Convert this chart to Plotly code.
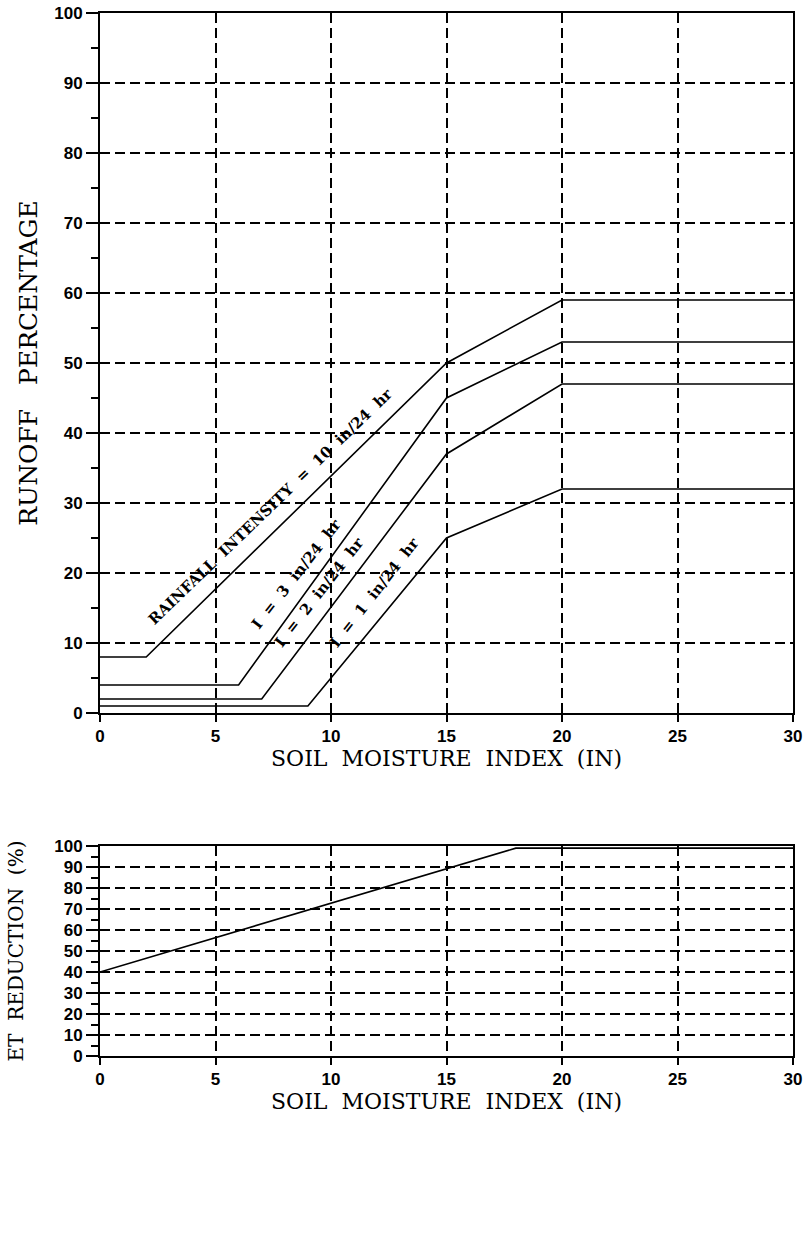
import plotly.graph_objects as go
from plotly.subplots import make_subplots

# Top chart data: soil moisture index vs runoff percentage
smi_10 = [0, 2, 15, 20, 30]
runoff_10 = [8, 8, 50, 59, 59]
smi_3 = [0, 6, 15, 20, 30]
runoff_3 = [4, 4, 45, 53, 53]
smi_2 = [0, 7, 15, 20, 30]
runoff_2 = [2, 2, 37, 47, 47]
smi_1 = [0, 9, 15, 20, 30]
runoff_1 = [1, 1, 25, 32, 32]

# Bottom chart data: ET reduction
smi_et = [0, 18, 30]
et_reduction = [40, 99, 99]

labels = ["RAINFALL  INTENSITY  =  10  in/24  hr", "I  =  3  in/24  hr",
          "I  =  2  in/24  hr", "I  =  1  in/24  hr"]
label_x = [7.4, 8.5, 9.5, 11.9]
label_y = [29.6, 19.9, 17.3, 17.3]
label_angle = [-44, -52, -52, -52]

x_ticks = [0, 5, 10, 15, 20, 25, 30]
y_ticks = [0, 10, 20, 30, 40, 50, 60, 70, 80, 90, 100]

fig = make_subplots(rows=2, cols=1)

line_style = dict(color="black", width=1.6)
for xs, ys in [(smi_10, runoff_10), (smi_3, runoff_3), (smi_2, runoff_2), (smi_1, runoff_1)]:
    fig.add_trace(go.Scatter(x=xs, y=ys, mode="lines", line=line_style, showlegend=False), row=1, col=1)
fig.add_trace(go.Scatter(x=smi_et, y=et_reduction, mode="lines", line=line_style, showlegend=False), row=2, col=1)

nb = lambda s: s.replace(" ", "\u00a0")

for t, xx, yy, a in zip(labels, label_x, label_y, label_angle):
    fig.add_annotation(x=xx, y=yy, xref="x", yref="y", text=nb(t), textangle=a, showarrow=False,
                       font=dict(family="DejaVu Serif", size=15, color="black", weight="bold"))

tickfont = dict(family="Liberation Sans", size=17, color="black", weight="bold")
titlefont = dict(family="DejaVu Serif", size=22, color="black")

common_x = dict(range=[0, 30], tickvals=x_ticks, showgrid=True, gridcolor="black", griddash="10px,5px",
                gridwidth=1.8, showline=True, linecolor="black", linewidth=2, mirror=True,
                ticks="outside", ticklen=7, tickwidth=2, tickcolor="black", tickfont=tickfont,
                zeroline=False, title_font=titlefont, title_standoff=3, automargin=False,
                ticklabeloverflow="allow")
common_y = dict(range=[0, 100], tickvals=y_ticks, showgrid=True, gridcolor="black", griddash="10px,5px",
                gridwidth=1.8, showline=True, linecolor="black", linewidth=2, mirror=True,
                ticks="outside", ticklen=12, tickwidth=2, tickcolor="black", tickfont=tickfont,
                zeroline=False, automargin=False, ticklabeloverflow="allow",
                minor=dict(dtick=5, ticks="outside", ticklen=7, tickwidth=1.5, tickcolor="black", showgrid=False))

fig.update_xaxes(**common_x, title_text=nb("SOIL  MOISTURE  INDEX  (IN)"), domain=[0, 1], row=1, col=1)
fig.update_xaxes(**common_x, title_text=nb("SOIL  MOISTURE  INDEX  (IN)"), domain=[0, 1], row=2, col=1)
fig.update_yaxes(**common_y, title_text=nb("RUNOFF   PERCENTAGE"), domain=[0.3289, 1.0], title_standoff=9,
                 title_font=dict(family="DejaVu Serif", size=25, color="black"), row=1, col=1)
fig.update_yaxes(**common_y, title_text=nb("ET  REDUCTION  (%)"), domain=[0.0, 0.2013], title_standoff=25,
                 title_font=dict(family="DejaVu Serif", size=20, color="black"), row=2, col=1)

fig.update_layout(width=805, height=1250, margin=dict(l=100, r=12, t=13, b=194),
                  plot_bgcolor="white", paper_bgcolor="white", showlegend=False)

fig.write_html("out.html", config={"displayModeBar": False},
               post_script="document.body.style.margin='0px';")
